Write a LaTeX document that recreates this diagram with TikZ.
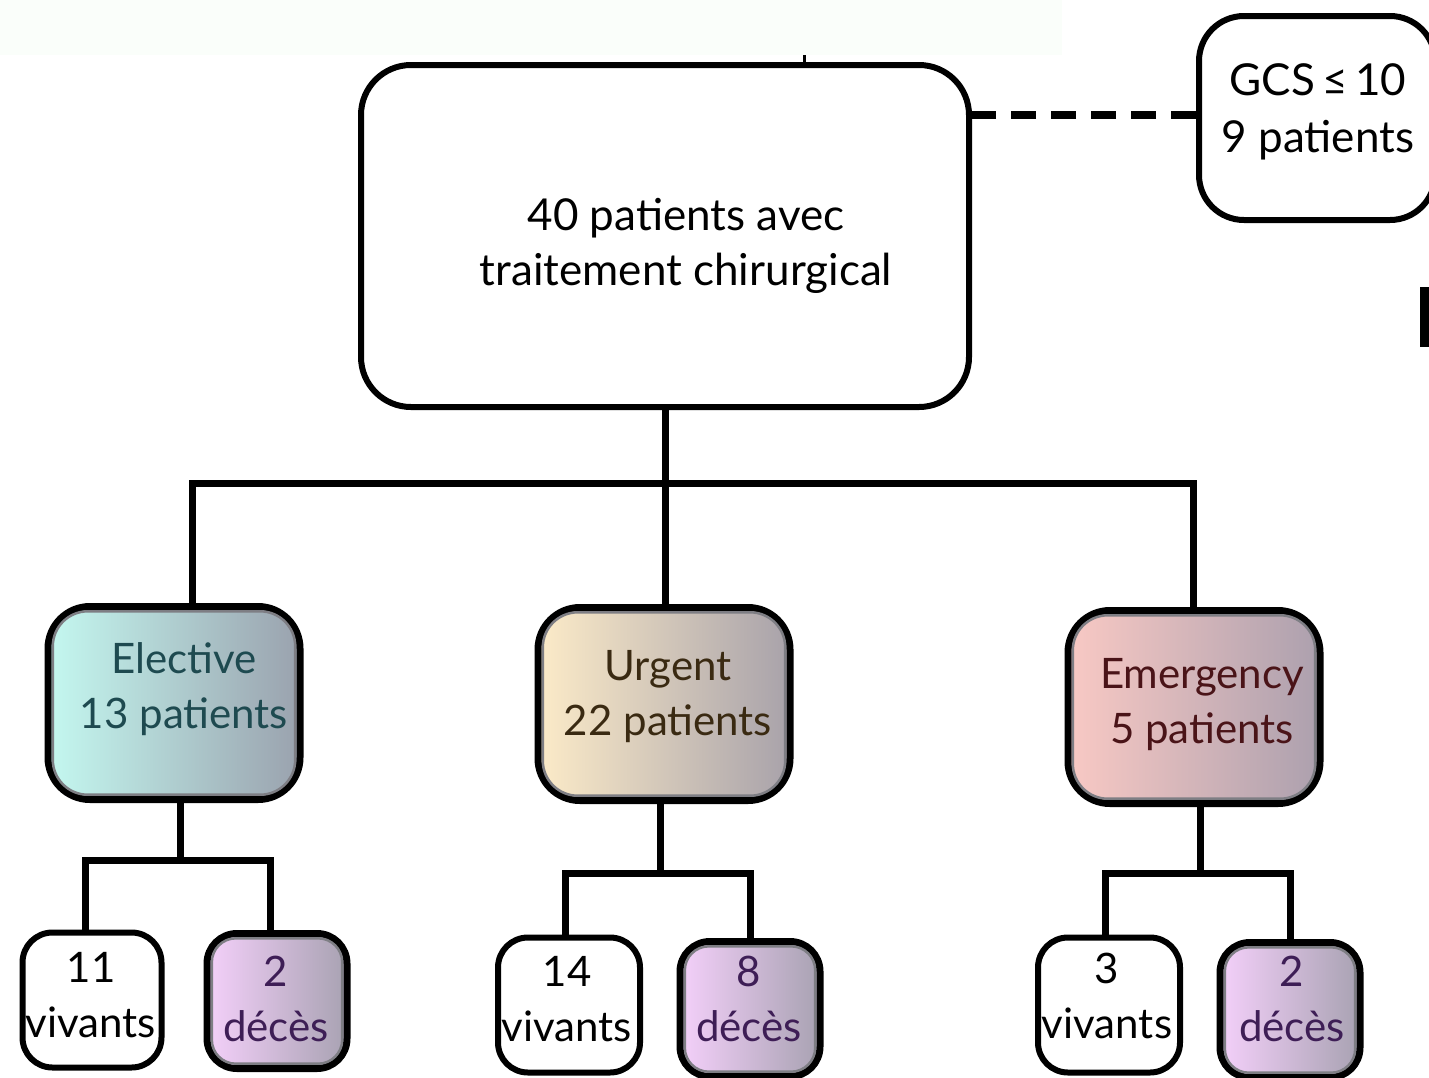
\documentclass[tikz,border=0pt]{standalone}
\usepackage{fontspec}
\setmainfont{Lato}
\definecolor{stripbg}{HTML}{FAFEFA}
\definecolor{elL}{HTML}{C4F8F0}
\definecolor{elR}{HTML}{9AA2AE}
\definecolor{elT}{HTML}{1E4A50}
\definecolor{urL}{HTML}{FCEBC8}
\definecolor{urR}{HTML}{A8A2AA}
\definecolor{urT}{HTML}{3A2A12}
\definecolor{emL}{HTML}{F9C9C4}
\definecolor{emR}{HTML}{ACA0AE}
\definecolor{emT}{HTML}{4A1418}
\definecolor{deL}{HTML}{F4D0FA}
\definecolor{deR}{HTML}{A8A2B2}
\definecolor{deT}{HTML}{3E1E56}
\definecolor{rim}{HTML}{7E7E84}
% grey rim just inside the black border of a shaded box
% (anchors sit on the outer edge of the 7pt border)
\newcommand\innerrim[2]{%
  \draw[rim, line width=2.5pt, rounded corners=#2]
    ([shift={(8.3,8.3)}]#1.north west) rectangle ([shift={(-8.3,-8.3)}]#1.south east);}
\begin{document}
\begin{tikzpicture}[x=1pt,y=-1pt,
  box/.style={draw=black, line width=6pt, fill=white, inner sep=0pt},
  bigbox/.style={box, rounded corners=50pt},
  catbox/.style={box, line width=7pt, rounded corners=42pt, minimum width=252pt, minimum height=193pt},
  leafbox/.style={box, rounded corners=30pt, minimum width=140pt, minimum height=135pt},
  shbox/.style={line width=7pt},
  txt/.style={align=center, inner sep=0pt, font=\fontsize{42}{55}\selectfont},
  conn/.style={line width=7pt, line join=miter},
  dashline/.style={line width=8pt, dash pattern=on 25pt off 15pt}]
\useasboundingbox (0,0) rectangle (1429,1077);

% faint header strip
\fill[stripbg] (0,0) rectangle (1062,55);

% main box and the GCS box
\node[bigbox, minimum width=608pt, minimum height=342pt] (main) at (665,236) {};
\node[txt, font=\fontsize{44}{55}\selectfont] (main-t) at (686,246)
  {40 patients avec\\traitement chirurgical};
\node[bigbox, rounded corners=45pt, minimum width=236pt, minimum height=204pt] (gcs) at (1317,118) {};
\node[txt, font=\fontsize{44}{57}\selectfont] (gcs-t) at (1318,112) {GCS\,≤\,10\\9 patients};
\coordinate (tick) at (804,55);
\draw[line width=3pt] (tick) -- (tick |- main.north);
\draw[dashline] (gcs.west |- 0,115) -- (main.east |- 0,115);
\fill (1420,287) rectangle (1429,347);

% categories
\node[catbox, left color=elL, right color=elR] (elective) at (174,703) {};
\innerrim{elective}{35pt}
\node[txt, text=elT] (elective-t) at (184,689) {Elective\\13 patients};
\node[catbox, left color=urL, right color=urR] (urgent) at (664,704) {};
\innerrim{urgent}{35pt}
\node[txt, text=urT] (urgent-t) at (668,697) {Urgent\\22 patients};
\node[catbox, left color=emL, right color=emR] (emergency) at (1194,707) {};
\innerrim{emergency}{35pt}
\node[txt, text=emT] (emergency-t) at (1202,705) {Emergency\\5 patients};

% outcomes
\node[leafbox, minimum width=139pt] (ev) at (92,1000) {};
\node[txt] (ev-t) at (91,995) {11\\vivants};
\node[leafbox, shbox, left color=deL, right color=deR] (ed) at (277,1001) {};
\innerrim{ed}{24pt}
\node[txt, text=deT] (ed-t) at (276,999) {2\\décès};
\node[leafbox, minimum width=142pt] (uv) at (569,1005) {};
\node[txt] (uv-t) at (567,999) {14\\vivants};
\node[leafbox, shbox, left color=deL, right color=deR] (ud) at (750,1009) {};
\innerrim{ud}{24pt}
\node[txt, text=deT] (ud-t) at (749,999) {8\\décès};
\node[leafbox, minimum width=142pt] (mv) at (1109,1005) {};
\node[txt] (mv-t) at (1107,996) {3\\vivants};
\node[leafbox, shbox, left color=deL, right color=deR] (md) at (1290,1010) {};
\innerrim{md}{24pt}
\node[txt, text=deT] (md-t) at (1292,999) {2\\décès};

% main split
\coordinate (bus) at (665,483);
\coordinate (busL) at (192,483);
\coordinate (busR) at (1193,483);
\draw[conn] (main.south) -- (bus);
\draw[conn] (busL |- elective.north) -- (busL) -- (busR) -- (busR |- emergency.north);
\draw[conn] (bus) -- (bus |- urgent.north);

% elective split
\coordinate (eJ) at (180,860);
\coordinate (eA) at (85,860);
\coordinate (eB) at (270,860);
\draw[conn] (eJ |- elective.south) -- (eJ);
\draw[conn] (eA |- ev.north) -- (eA) -- (eB) -- (eB |- ed.north);

% urgent split
\coordinate (uJ) at (660,873);
\coordinate (uA) at (565,873);
\coordinate (uB) at (750,873);
\draw[conn] (uJ |- urgent.south) -- (uJ);
\draw[conn] (uA |- uv.north) -- (uA) -- (uB) -- (uB |- ud.north);

% emergency split
\coordinate (mJ) at (1200,873);
\coordinate (mA) at (1105,873);
\coordinate (mB) at (1290,873);
\draw[conn] (mJ |- emergency.south) -- (mJ);
\draw[conn] (mA |- mv.north) -- (mA) -- (mB) -- (mB |- md.north);
\end{tikzpicture}
\end{document}
